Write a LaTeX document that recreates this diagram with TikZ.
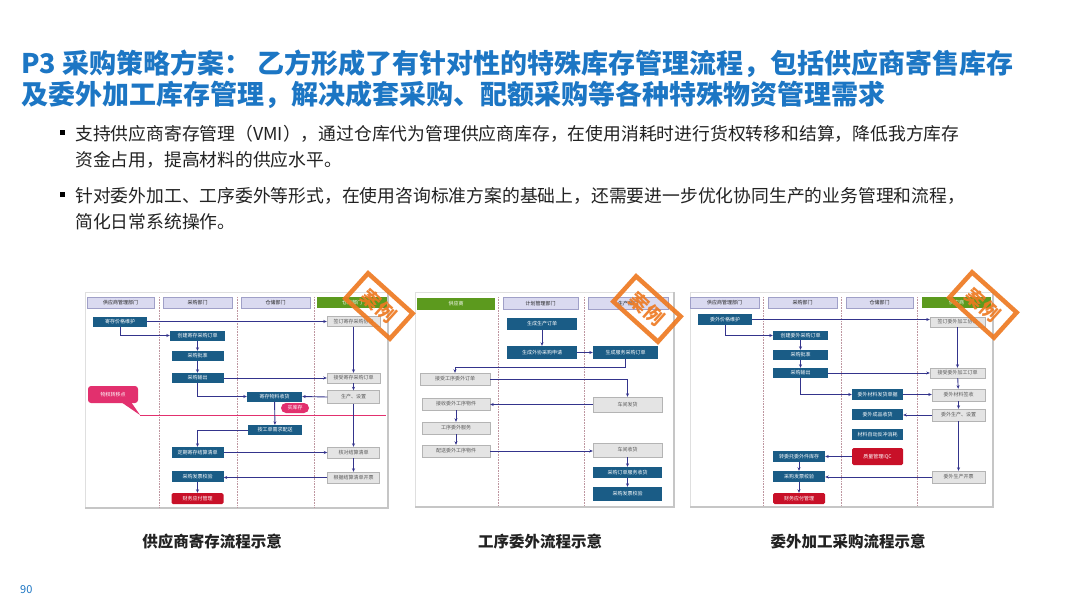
\documentclass[tikz,border=0pt]{standalone}
\usepackage{fontspec}
\setmainfont{Liberation Sans}
\newfontfamily\cjk{Noto Sans CJK SC}
\usetikzlibrary{arrows.meta}
\definecolor{titleblue}{RGB}{28,118,196}
\definecolor{txtc}{RGB}{34,34,34}
\definecolor{dblue}{RGB}{26,92,134}
\definecolor{navy}{RGB}{52,52,140}
\definecolor{lav}{RGB}{218,218,240}
\definecolor{lavd}{RGB}{160,160,200}
\definecolor{hgreen}{RGB}{92,154,30}
\definecolor{gbox}{RGB}{228,228,228}
\definecolor{gline}{RGB}{180,180,180}
\definecolor{rbox}{RGB}{200,16,40}
\definecolor{pinkc}{RGB}{226,48,110}
\definecolor{stampc}{RGB}{238,122,34}
\definecolor{sepc}{RGB}{190,150,160}
\begin{document}
\begin{tikzpicture}[x=1pt,y=-1pt,
  tiny/.style={font=\cjk\fontsize{5}{6}\selectfont},
  hdr/.style={tiny, draw=lavd, fill=lav, text=txtc, inner sep=0, minimum height=11},
  ghdr/.style={tiny, fill=hgreen, text=white, inner sep=0, minimum height=11},
  bx/.style={tiny, fill=dblue, text=white, inner sep=0, minimum height=10},
  gbx/.style={tiny, fill=gbox, draw=gline, text=black!65, inner sep=0, minimum height=10},
  rbx/.style={tiny, fill=rbox, text=white, inner sep=0, minimum height=11, rounded corners=1.5},
  ln/.style={draw=navy, line width=0.9pt, -{Stealth[length=3.5pt,width=3pt]}},
  sep/.style={draw=sepc, densely dotted, line width=0.6pt},
  stamp/.style={draw=stampc, line width=4.5pt, minimum width=60, minimum height=34, inner sep=0,
     text=stampc, font=\cjk\bfseries\fontsize{19}{19}\selectfont, rotate=-42, opacity=0.92},
  captxt/.style={font=\cjk\bfseries\fontsize{15.5}{17}\selectfont, text=txtc},
  btxt/.style={anchor=west, inner sep=0, font=\cjk\fontsize{17.8}{20}\selectfont, text=txtc},
  bul/.style={fill=black, minimum size=5, inner sep=0}
]
\useasboundingbox (0,0) rectangle (1080,607);
\fill[white] (0,0) rectangle (1080,607);

% ---------- title ----------
\node[anchor=west, inner sep=0, font=\cjk\bfseries\fontsize{27}{30}\selectfont, text=titleblue] (t1) at (21,64)
  {P3 采购策略方案：\hspace{6pt}乙方形成了有针对性的特殊库存管理流程，包括供应商寄售库存};
\node[anchor=west, inner sep=0, font=\cjk\bfseries\fontsize{27}{30}\selectfont, text=titleblue] (t2) at (21,95)
  {及委外加工库存管理，解决成套采购、配额采购等各种特殊物资管理需求};

% ---------- bullets ----------
\node[bul] (q1) at (62,133) {};
\node[btxt] (p1a) at (75,134) {支持供应商寄存管理（VMI），通过仓库代为管理供应商库存，在使用消耗时进行货权转移和结算，降低我方库存};
\node[btxt] (p1b) at (75,160) {资金占用，提高材料的供应水平。};
\node[bul] (q2) at (62,195) {};
\node[btxt] (p2a) at (75,196) {针对委外加工、工序委外等形式，在使用咨询标准方案的基础上，还需要进一步优化协同生产的业务管理和流程，};
\node[btxt] (p2b) at (75,222) {简化日常系统操作。};

% ================= diagram 1 =================
\draw[gray!25, line width=0.5pt] (85,292) rectangle (388,508);
\draw[gray!45, line width=2pt] (388,292) -- (388,508) -- (85,508);
\foreach \x in {159,237,314} \draw[sep] (\x,297) -- (\x,507);
\node[hdr, minimum width=67] (h11) at (120.5,302.5) {供应商管理部门};
\node[hdr, minimum width=69] (h12) at (197.5,302.5) {采购部门};
\node[hdr, minimum width=69] (h13) at (275.5,302.5) {仓储部门};
\node[ghdr, minimum width=70] (h14) at (352,302.5) {仓库部门};

\node[bx, minimum width=54] (a1) at (120,321.5) {寄存价格维护};
\node[gbx, minimum width=53] (a2) at (353.5,321.5) {签订寄存采购协议};
\node[bx, minimum width=55] (a3) at (197.5,335.5) {创建寄存采购订单};
\node[bx, minimum width=52] (a4) at (197.5,356) {采购批准};
\node[bx, minimum width=52] (a5) at (197.5,378) {采购输出};
\node[gbx, minimum width=53] (a6) at (353.5,378) {接受寄存采购订单};
\node[gbx, minimum width=52, minimum height=13] (a7) at (353.5,397) {生产、设置};
\node[bx, minimum width=55] (a8) at (274.5,396.5) {寄存物料收货};
\node[tiny, fill=pinkc, text=white, rounded corners=5, minimum width=28, minimum height=10, inner sep=0] (a9) at (295,408) {实库存};
\node[tiny, fill=pinkc, text=white, rounded corners=3, minimum width=50, minimum height=17, inner sep=0] (a10) at (113,394.5) {物权转移点};
\coordinate (pl1) at (140,415);
\coordinate (pl2) at (386,415);
\fill[pinkc] (121,402) -- (131,402) -- (pl1) -- cycle;
\draw[pinkc, line width=1pt] (pl1) -- (pl2);
\node[bx, minimum width=54] (a11) at (275,430) {按工单需求配送};
\node[bx, minimum width=52, minimum height=11] (a12) at (197.5,452.5) {定期寄存结算清单};
\node[gbx, minimum width=52, minimum height=11] (a13) at (353.5,452.5) {核对结算清单};
\node[bx, minimum width=52, minimum height=11] (a14) at (197.5,476.5) {采购发票校验};
\node[gbx, minimum width=52, minimum height=11] (a15) at (353.5,477.5) {根据结算清单开票};
\node[rbx, minimum width=52] (a16) at (197.5,498.5) {财务应付管理};

\draw[ln] (a1.east) -- (a2.west);
\draw[ln] (a1.south) |- (a3.west);
\draw[ln] (a3) -- (a4);
\draw[ln] (a4) -- (a5);
\draw[ln] (a5.east) -- (a6.west);
\draw[ln] (a2) -- (a6);
\draw[ln] (a6) -- (a7);
\draw[ln] (a5.south) |- (a8.west);
\draw[ln] (a7.west) -- (a8.east);
\draw[ln] (a8) -- (a11);
\draw[ln] (a11.west) -| (a12.north);
\draw[ln] (a12.east) -- (a13.west);
\draw[ln] (a7) -- (a13);
\draw[ln] (a13) -- (a15);
\draw[ln] (a15.west) -- (a15.west -| a14.east);
\draw[ln] (a14) -- (a16);

% ================= diagram 2 =================
\draw[gray!25, line width=0.5pt] (415,292) rectangle (674,507);
\draw[gray!45, line width=2pt] (674,292) -- (674,507) -- (415,507);
\foreach \x in {498,584} \draw[sep] (\x,297) -- (\x,506);
\node[ghdr, minimum width=78, minimum height=12] (h21) at (456,303.5) {供应商};
\node[hdr, minimum width=75, minimum height=12] (h22) at (540.5,303.5) {计划管理部门};
\node[hdr, minimum width=80, minimum height=12] (h23) at (628,303.5) {生产部门};

\node[bx, minimum width=70, minimum height=12] (b1) at (542,324) {生成生产订单};
\node[bx, minimum width=70, minimum height=13] (b2) at (542,352.5) {生成外协采购申请};
\node[bx, minimum width=65, minimum height=13] (b3) at (625.5,352.5) {生成服务采购订单};
\node[gbx, minimum width=70, minimum height=12] (b4) at (455,379) {接受工序委外订单};
\node[gbx, minimum width=69, minimum height=15] (b5) at (627.5,404.5) {车间发货};
\node[gbx, minimum width=68, minimum height=12] (b6) at (456,404) {接收委外工序物件};
\node[gbx, minimum width=68, minimum height=12] (b7) at (456,428) {工序委外服务};
\node[gbx, minimum width=68, minimum height=12] (b8) at (456,451) {配送委外工序物件};
\node[gbx, minimum width=69, minimum height=14] (b9) at (627.5,450) {车间收货};
\node[bx, minimum width=69, minimum height=11] (b10) at (627.5,472.5) {采购订单服务收货};
\node[bx, minimum width=69, minimum height=14] (b11) at (627.5,494) {采购发票校验};

\draw[ln] (b1) -- (b2);
\draw[ln] (b2) -- (b3);
\draw[ln] (b3.south) -- ++(0,8) -| (b4.north);
\draw[ln] (b4.east) -| (b5.north);
\draw[ln] (b5.west) -- (b5.west -| b6.east);
\draw[ln] (b6) -- (b7);
\draw[ln] (b7) -- (b8);
\draw[ln] (b8.east) -- (b8.east -| b9.west);
\draw[ln] (b9) -- (b10);
\draw[ln] (b10) -- (b11);

% ================= diagram 3 =================
\draw[gray!25, line width=0.5pt] (690,292) rectangle (993,507);
\draw[gray!45, line width=2pt] (993,292) -- (993,507) -- (690,507);
\foreach \x in {763,841,917} \draw[sep] (\x,297) -- (\x,506);
\node[hdr, minimum width=69] (h31) at (724.5,302.5) {供应商管理部门};
\node[hdr, minimum width=69] (h32) at (802.5,302.5) {采购部门};
\node[hdr, minimum width=67] (h33) at (879.5,302.5) {仓储部门};
\node[ghdr, minimum width=69] (h34) at (956.5,302.5) {供应商};

\node[bx, minimum width=54, minimum height=11] (c1) at (725,319.5) {委外价格维护};
\node[gbx, minimum width=55] (c2) at (957.5,322) {签订委外加工协议};
\node[bx, minimum width=55, minimum height=9] (c3) at (800.5,335.5) {创建委外采购订单};
\node[bx, minimum width=55] (c4) at (800.5,355) {采购批准};
\node[bx, minimum width=55] (c5) at (800.5,373) {采购输出};
\node[gbx, minimum width=55] (c6) at (957.5,373) {接受委外加工订单};
\node[bx, minimum width=51, minimum height=11] (c7) at (877.5,394.5) {委外材料发货单据};
\node[gbx, minimum width=53, minimum height=12] (c8) at (958.5,395) {委外材料签收};
\node[gbx, minimum width=53, minimum height=12] (c9) at (958.5,415) {委外生产、设置};
\node[bx, minimum width=51, minimum height=11] (c10) at (877.5,414.5) {委外成品收货};
\node[bx, minimum width=51, minimum height=11] (c11) at (877.5,434.5) {材料自动反冲消耗};
\node[rbx, minimum width=51, minimum height=17] (c12) at (877.5,456.5) {质量管理IQC};
\node[bx, minimum width=52, minimum height=11] (c13) at (799,456.5) {转委托委外件库存};
\node[gbx, minimum width=53, minimum height=12] (c14) at (958.5,477) {委外生产开票};
\node[bx, minimum width=52, minimum height=11] (c15) at (799,476.5) {采购发票校验};
\node[rbx, minimum width=52] (c16) at (799,498.5) {财务应付管理};

\draw[ln] (c1.east) -- (c1.east -| c2.west);
\draw[ln] (c1.south) |- (c3.west);
\draw[ln] (c3) -- (c4);
\draw[ln] (c4) -- (c5);
\draw[ln] (c5.east) -- (c6.west);
\draw[ln] (c2) -- (c6);
\draw[ln] (c5.south) |- (c7.west);
\draw[ln] (c7.east) -- (c7.east -| c8.west);
\draw[ln] (c6) -- (c8);
\draw[ln] (c8) -- (c9);
\draw[ln] (c9.west) -- (c9.west -| c10.east);
\draw[ln] (c9) -- (c14);
\draw[ln] (c12.west) -- (c13.east);
\draw[ln] (c13) -- (c15);
\draw[ln] (c14.west) -- (c14.west -| c15.east);
\draw[ln] (c15) -- (c16);

% ---------- stamps ----------
\node[stamp] (s1) at (379,306) {案例};
\node[stamp] (s2) at (647,309) {案例};
\node[stamp] (s3) at (983,305) {案例};

% ---------- captions ----------
\node[captxt] (k1) at (212,542) {供应商寄存流程示意};
\node[captxt] (k2) at (540,542) {工序委外流程示意};
\node[captxt] (k3) at (848,542) {委外加工采购流程示意};
\node[anchor=west, inner sep=0, font=\cjk\fontsize{11}{12}\selectfont, text=titleblue] (pg) at (20,590) {90};
\end{tikzpicture}
\end{document}
